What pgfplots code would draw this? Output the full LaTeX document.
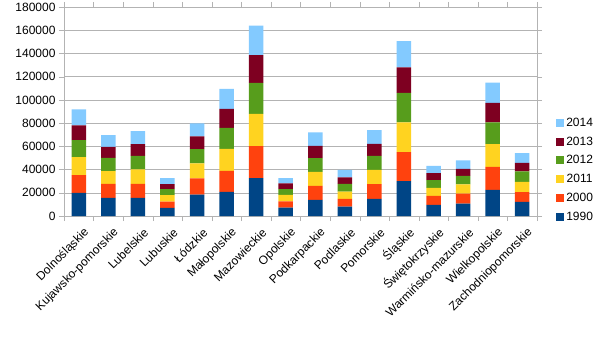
\documentclass[border=0pt]{standalone}
\usepackage{pgfplots}
\pgfplotsset{compat=1.18}
\usepackage{pgfplotstable}
\usepackage{fontspec}
\setmainfont{Liberation Sans}
\definecolor{c1990}{HTML}{004586}
\definecolor{c2000}{HTML}{FF420E}
\definecolor{c2011}{HTML}{FFD320}
\definecolor{c2012}{HTML}{579D1C}
\definecolor{c2013}{HTML}{7E0021}
\definecolor{c2014}{HTML}{83CAFF}
\definecolor{gridc}{HTML}{B3B3B3}
\pgfplotstableread{
x  y1990 y2000 y2011 y2012 y2013 y2014
0  19900 15250 15550 14700 12700 13800
1  15550 12100 10950 11500 9500  10100
2  15550 12100 12450 11750 10100 11200
3  6900  5500  5500  5150  4350  5150
4  18500 13800 12950 12350 11000 11200
5  20700 18200 19000 17900 16400 17300
6  32550 27650 27650 26800 23950 25300
7  7250  5450  5450  4900  4950  4550
8  13800 12100 12100 11850 10650 11550
9  8100  6600  6400  6550  5550  6550
10 14700 12700 12350 12100 10350 11850
11 30000 25050 25650 25300 21900 22800
12 9500  7800  6900  6650  6050  6300
13 10700 8650  7800  7400  6050  7250
14 22450 19900 19600 18750 16650 17550
15 12100 8400  8900  8950  7450  8350
}\data
\begin{document}
\begin{tikzpicture}
\path[use as bounding box] (-64pt,-124pt) rectangle (541pt,216pt);
\begin{axis}[
  at={(0pt,0pt)}, anchor=south west,
  scale only axis, width=473pt, height=209pt,
  ybar stacked, bar width=0.49,
  xmin=-0.5, xmax=15.5, ymin=0, ymax=180000,
  ytick={0,20000,...,180000},
  scaled y ticks=false,
  yticklabel style={/pgf/number format/fixed, /pgf/number format/1000 sep={}, font=\fontsize{12}{14}\selectfont},
  /pgf/number format/assume math mode=true,
  xtick={0,...,15},
  xticklabels={Dolnośląskie,Kujawsko-pomorskie,Lubelskie,Lubuskie,Łódzkie,Małopolskie,Mazowieckie,Opolskie,Podkarpackie,Podlaskie,Pomorskie,Śląskie,Świętokrzyskie,Warmińsko-mazurskie,Wielkopolskie,Zachodniopomorskie},
  xticklabel style={xshift=9pt, yshift=-9pt, rotate=45, anchor=east, font=\fontsize{12}{14}\selectfont, inner sep=1pt},
  major x tick style={draw=none},
  minor xtick={-0.5,0.5,...,15.5},
  tick align=outside,
  major tick length=5pt, minor tick length=5pt,
  tick style={gridc},
  ymajorgrids, grid style={gridc},
  axis line style={gridc},
  legend style={at={(1.034,0.49)}, anchor=north west, draw=none, fill=none,
     font=\fontsize{12}{14}\selectfont, row sep=5pt,
     /tikz/every even column/.append style={column sep=2pt}},
  reverse legend,
  legend image code/.code={\fill[#1] (0pt,-4pt) rectangle (8pt,4pt);},
]
\addplot[fill=c1990, draw=none] table[x=x, y=y1990]{\data};
\addplot[fill=c2000, draw=none] table[x=x, y=y2000]{\data};
\addplot[fill=c2011, draw=none] table[x=x, y=y2011]{\data};
\addplot[fill=c2012, draw=none] table[x=x, y=y2012]{\data};
\addplot[fill=c2013, draw=none] table[x=x, y=y2013]{\data};
\addplot[fill=c2014, draw=none] table[x=x, y=y2014]{\data};
\legend{1990,2000,2011,2012,2013,2014}
\end{axis}
\end{tikzpicture}
\end{document}
